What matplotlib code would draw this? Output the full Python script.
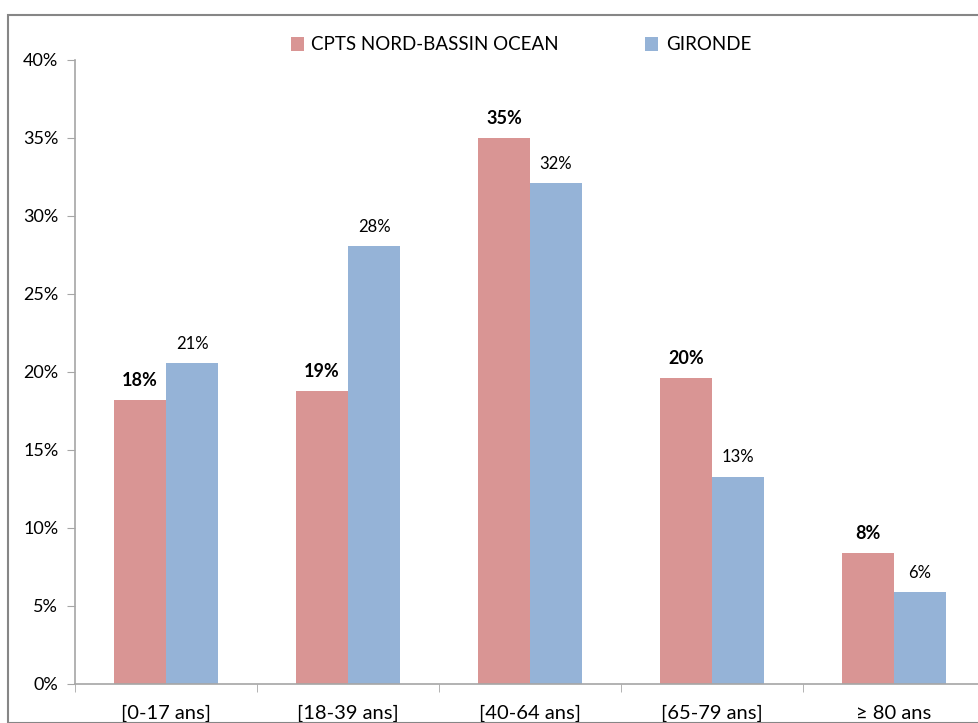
import matplotlib.pyplot as plt
import numpy as np
from matplotlib.patches import Rectangle

# Données
categories = ["[0-17 ans]", "[18-39 ans]", "[40-64 ans]", "[65-79 ans]", "≥ 80 ans"]
cpts = [18.2, 18.8, 35.0, 19.6, 8.4]
gironde = [20.6, 28.1, 32.1, 13.3, 5.9]
series_names = ["CPTS NORD-BASSIN OCEAN", "GIRONDE"]

plt.rcParams['font.family'] = ['Lato', 'DejaVu Sans']

W, H = 979, 723
fig = plt.figure(figsize=(W / 100, H / 100), dpi=100)
ax = fig.add_axes([75 / W, (H - 684) / H, 910 / W, 624 / H])

x = np.arange(len(categories))
largeur = 0.286
b1 = ax.bar(x - largeur / 2, cpts, largeur, color="#d99594", label=series_names[0])
b2 = ax.bar(x + largeur / 2, gironde, largeur, color="#95b3d7", label=series_names[1])

# Étiquettes de valeur
for rect, v in zip(b1, cpts):
    ax.annotate(f"{v:.0f}%", (rect.get_x() + rect.get_width() / 2, v),
                xytext=(0, 8), textcoords="offset points", ha="center", va="bottom",
                fontsize=13, fontweight="bold")
for rect, v in zip(b2, gironde):
    ax.annotate(f"{v:.0f}%", (rect.get_x() + rect.get_width() / 2, v),
                xytext=(0, 8), textcoords="offset points", ha="center", va="bottom",
                fontsize=12)

ax.set_xlim(-0.5, len(categories) - 0.5)
ax.set_ylim(0, 40)
ax.set_yticks(np.arange(0, 41, 5))
ax.set_yticklabels([f"{t}%" for t in range(0, 41, 5)], fontsize=13)
ax.set_xticks(x)
ax.set_xticklabels(categories, fontsize=14.5)
ax.tick_params(axis="x", length=0, pad=15)
ax.tick_params(axis="y", length=6, color="#a6a6a6", pad=6)
# petits traits entre les catégories
ax.set_xticks(np.arange(-0.5, len(categories), 1), minor=True)
ax.tick_params(axis="x", which="minor", length=6, color="#a6a6a6", direction="out")

for s in ["top", "right"]:
    ax.spines[s].set_visible(False)
for s in ["left", "bottom"]:
    ax.spines[s].set_color("#a6a6a6")
    ax.spines[s].set_linewidth(1.2)

leg = fig.legend(loc="center", bbox_to_anchor=(521 / W, 1 - 45 / H), ncol=2, frameon=False,
                 fontsize=13.5, handlelength=0.7, handleheight=0.7, columnspacing=4.6,
                 handletextpad=0.4)

# cadre du graphique
fig.patches.append(Rectangle((8 / W, 0), 1.2, 1 - 15 / H, transform=fig.transFigure,
                             fill=False, edgecolor="#868686", linewidth=1.5))

fig.savefig("out.png", dpi=100)
